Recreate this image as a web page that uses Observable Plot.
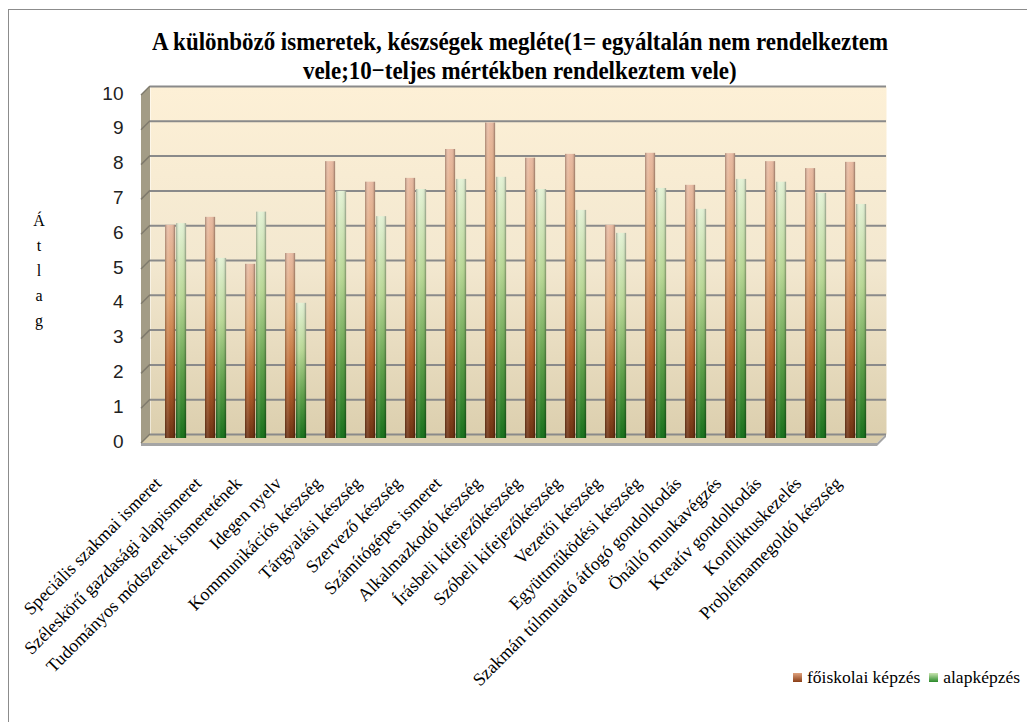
<!DOCTYPE html>
<html>
<head>
<meta charset="utf-8">
<script src="https://cdn.jsdelivr.net/npm/d3@7"></script>
<script src="https://cdn.jsdelivr.net/npm/@observablehq/plot@0.6"></script>
<style>
  html, body { margin: 0; padding: 0; background: #ffffff; }
  #page { position: relative; width: 1027px; height: 722px; overflow: hidden; background: #fff; }
  #border { position: absolute; left: 8px; top: 9px; width: 1040px; height: 740px; border: 1.5px solid #8c8c8c; box-sizing: border-box; }
  #title { position: absolute; left: 0; top: 27px; width: 1040px; text-align: center; font-family: "Liberation Serif", serif; font-weight: bold; font-size: 26px; line-height: 29px; color: #000; }
  #title span { display: inline-block; transform-origin: center; }
  #ylabel { position: absolute; left: 31px; top: 208px; width: 16px; text-align: center; font-family: "Liberation Serif", serif; font-size: 16px; line-height: 25px; color: #000; }
  #chart { position: absolute; left: 0; top: 80px; }
  #legend { position: absolute; left: 793px; top: 667px; font-family: "Liberation Serif", serif; font-size: 17.5px; color: #000; white-space: nowrap; }
  #legend .item { display: inline-block; margin-right: 9px; }
  #legend .sw { display: inline-block; width: 9px; height: 9px; margin-right: 5px; vertical-align: 1px; }
</style>
</head>
<body>
<div id="page">
  <div id="border"></div>
  <div id="title"><span id="t1">A különböző ismeretek, készségek megléte(1= egyáltalán nem rendelkeztem</span><br><span id="t2">vele;10−teljes mértékben rendelkeztem vele)</span></div>
  <div id="ylabel">Á<br>t<br>l<br>a<br>g</div>
  <div id="chart"></div>
  <div id="legend"></div>
</div>
<script>
// ---- data ----
const categories = [
  "Speciális szakmai ismeret",
  "Széleskörű gazdasági alapismeret",
  "Tudományos módszerek ismeretének",
  "Idegen nyelv",
  "Kommunikációs készség",
  "Tárgyalási készség",
  "Szervező készség",
  "Számítógépes ismeret",
  "Alkalmazkodó készség",
  "Írásbeli kifejezőkészség",
  "Szóbeli kifejezőkészség",
  "Vezetői készség",
  "Együttműködési készség",
  "Szakmán túlmutató átfogó gondolkodás",
  "Önálló munkavégzés",
  "Kreatív gondolkodás",
  "Konfliktuskezelés",
  "Problémamegoldó készség"
];
const seriesNames = ["főiskolai képzés", "alapképzés"];
const foiskolai = [6.01, 6.24, 4.89, 5.20, 7.84, 7.25, 7.36, 8.19, 8.95, 7.94, 8.05, 6.01, 8.08, 7.16, 8.07, 7.84, 7.64, 7.82];
const alap      = [6.06, 5.06, 6.39, 3.77, 6.99, 6.26, 7.04, 7.33, 7.39, 7.04, 6.44, 5.78, 7.07, 6.47, 7.33, 7.25, 6.93, 6.61];
const yTicks = [0, 1, 2, 3, 4, 5, 6, 7, 8, 9, 10];

const dataO = categories.map((c, i) => ({cat: c, series: seriesNames[0], value: foiskolai[i]}));
const dataG = categories.map((c, i) => ({cat: c, series: seriesNames[1], value: alap[i]}));

// ---- layout ----
const W = 1027, H = 560;
const mL = 150, mR = 141, mT = 6, mB = 206;
const bw = (W - mL - mR) / categories.length;
const barW = 11, lead = 7;

const plot = Plot.plot({
  width: W, height: H,
  marginLeft: mL, marginRight: mR, marginTop: mT, marginBottom: mB,
  x: {domain: categories, padding: 0, axis: null},
  y: {domain: [0, 10], axis: null},
  style: {background: "transparent", overflow: "visible"},
  marks: [
    Plot.frame({fill: "url(#wall)", stroke: null}),
    Plot.gridY(yTicks, {stroke: "#8a8a8a", strokeWidth: 2, strokeOpacity: 1}),
    Plot.axisY(yTicks, {label: null, tickSize: 0, tickPadding: 27, fontSize: 19, dy: 7, tickFormat: d => String(d),
      fontFamily: "'Liberation Sans Narrow', 'Liberation Sans', sans-serif", fill: "#222"}),
    Plot.barY(dataO, {x: "cat", y: "value", fill: "url(#gradO)", insetLeft: lead, insetRight: bw - lead - barW, insetBottom: -4}),
    Plot.barY(dataO, {x: "cat", y: "value", fill: "url(#shade)", insetLeft: lead, insetRight: bw - lead - barW, insetBottom: -4}),
    Plot.barY(dataG, {x: "cat", y: "value", fill: "url(#gradG)", insetLeft: lead + barW, insetRight: bw - lead - 2 * barW, insetBottom: -4}),
    Plot.barY(dataG, {x: "cat", y: "value", fill: "url(#shade)", insetLeft: lead + barW, insetRight: bw - lead - 2 * barW, insetBottom: -4}),
    Plot.text(categories, {x: d => d, frameAnchor: "bottom", rotate: -45, textAnchor: "end", dy: 50, dx: -16,
      fontSize: 18, fontFamily: "'Liberation Serif', serif", fill: "#000"})
  ]
});
document.getElementById("chart").appendChild(plot);

// gradients
const svg = d3.select(plot);
const defs = svg.insert("defs", ":first-child");
function vgrad(id, stops) {
  const g = defs.append("linearGradient").attr("id", id).attr("x1", 0).attr("y1", 0).attr("x2", 0).attr("y2", 1);
  stops.forEach(([o, c]) => g.append("stop").attr("offset", o).attr("stop-color", c));
}
vgrad("wall", [[0, "#fdf0d6"], [0.5, "#f3e8d0"], [1, "#dccfae"]]);
vgrad("gradO", [[0, "#e9bca4"], [0.35, "#dea06c"], [0.7, "#b8622c"], [1, "#6e3212"]]);
vgrad("gradG", [[0, "#e4f2d6"], [0.35, "#b9d896"], [0.7, "#5c9e48"], [1, "#17701a"]]);
const sh = defs.append("linearGradient").attr("id", "shade").attr("x1", 0).attr("y1", 0).attr("x2", 1).attr("y2", 0);
[[0, "#000", 0.28], [0.3, "#fff", 0.12], [0.5, "#fff", 0.0], [0.8, "#000", 0.05], [1, "#000", 0.35]]
  .forEach(([o, c, a]) => sh.append("stop").attr("offset", o).attr("stop-color", c).attr("stop-opacity", a));

// 3D side wall and floor, positioned from the plot's scales
const ys = plot.scale("y");
const y0 = ys.apply(0), y10 = ys.apply(10);
const xL = mL, xR = W - mR, d = 9;
const frameEl = plot.querySelector('[aria-label="frame"]');
const ns = "http://www.w3.org/2000/svg";
function poly(points, fill) {
  const p = document.createElementNS(ns, "polygon");
  p.setAttribute("points", points.map(q => q.join(",")).join(" "));
  p.setAttribute("fill", fill);
  return p;
}
const extras = document.createElementNS(ns, "g");
extras.appendChild(poly([[xL - d, y10 + d], [xL, y10], [xL, y0], [xL - d, y0 + d]], "#a39c86"));
extras.appendChild(poly([[xL, y0], [xR, y0], [xR - d, y0 + d], [xL - d, y0 + d]], "#d9cca9"));
extras.appendChild(poly([[xL - d, y0 + d], [xR - d, y0 + d], [xR - d, y0 + d + 3], [xL - d, y0 + d + 3]], "#a5a5a5"));
extras.appendChild(poly([[xR - d, y0 + d], [xR, y0], [xR, y0 + 3], [xR - d, y0 + d + 3]], "#a5a5a5"));
yTicks.forEach(t => {
  const l = document.createElementNS(ns, "line");
  const yy = ys.apply(t);
  l.setAttribute("x1", xL - d); l.setAttribute("y1", yy + d);
  l.setAttribute("x2", xL); l.setAttribute("y2", yy);
  l.setAttribute("stroke", "#7f7a6c"); l.setAttribute("stroke-width", 1.5);
  extras.appendChild(l);
});
frameEl.after(extras);

// legend
const legend = d3.select("#legend");
[[seriesNames[0], ["#e0a27e", "#8a3e16"]], [seriesNames[1], ["#c9e4b0", "#2a8a2a"]]].forEach(([name, cs]) => {
  const it = legend.append("span").attr("class", "item");
  it.append("span").attr("class", "sw").style("background", `linear-gradient(${cs[0]}, ${cs[1]})`);
  it.append("span").text(name);
});

// title width fit
const t1 = document.getElementById("t1"), t2 = document.getElementById("t2");
const s = 736 / t1.getBoundingClientRect().width;
t1.style.transform = `scaleX(${s})`;
t2.style.transform = `scaleX(${s})`;
</script>
</body>
</html>
